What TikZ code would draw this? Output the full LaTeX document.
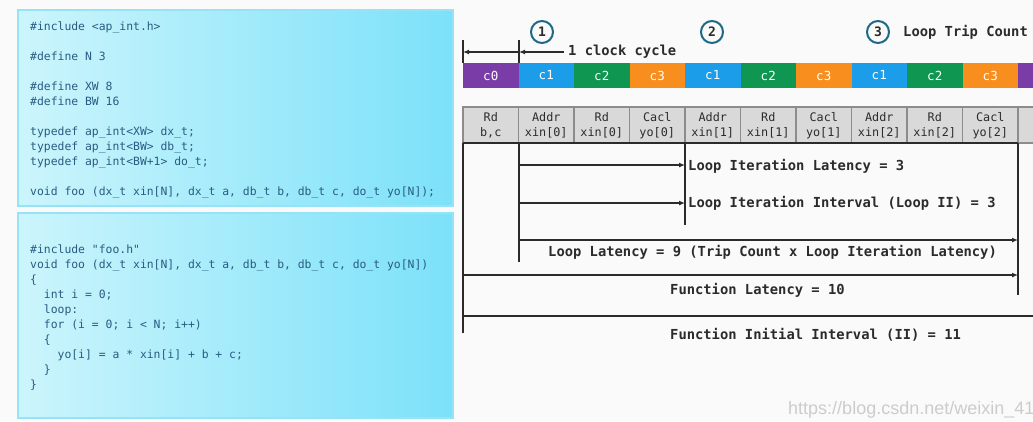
\documentclass[tikz,border=0pt]{standalone}
\usepackage{fontspec}
\setmonofont{DejaVu Sans Mono}
\newfontfamily\wmfont{Liberation Sans}
\usetikzlibrary{arrows.meta,calc}
\definecolor{bg}{HTML}{FAFAFA}
\definecolor{boxL}{RGB}{204,245,252}
\definecolor{boxR}{RGB}{124,225,249}
\definecolor{boxB}{RGB}{150,226,246}
\definecolor{codecol}{RGB}{40,92,130}
\definecolor{cpurple}{HTML}{7A3DA8}
\definecolor{cblue}{HTML}{1C9DEA}
\definecolor{cgreen}{HTML}{0F9650}
\definecolor{corange}{HTML}{F88E1E}
\definecolor{cellfill}{HTML}{D9D9D9}
\definecolor{cellline}{HTML}{8C8C8C}
\definecolor{ink}{HTML}{2B2B2B}
\definecolor{ring}{HTML}{1E6A86}
\tikzset{
  codebox/.style={left color=boxL, right color=boxR, draw=boxB, line width=1.5pt},
  codefont/.style={font=\ttfamily\fontsize{11.4}{15}\selectfont, text=codecol, inner sep=0pt},
  lbl/.style={font=\ttfamily\bfseries\fontsize{13.8}{16}\selectfont, text=ink, inner sep=0pt},
  clk/.style={font=\ttfamily\fontsize{12.5}{15}\selectfont, text=white, inner sep=0pt},
  cell/.style={font=\ttfamily\fontsize{11.8}{15}\selectfont, text=ink, align=center, inner sep=0pt},
  frame/.style={draw=ink, line width=1.6pt},
  arr/.style={frame, -{Latex[length=6pt,width=5pt]}},
  num/.style={circle, draw=ring, line width=2pt, minimum size=22pt, inner sep=0pt,
    font=\ttfamily\bfseries\fontsize{13}{15}\selectfont, text=ink}
}
\begin{document}
\begin{tikzpicture}[x=1pt,y=-1pt]
\useasboundingbox (0,0) rectangle (1033,421);
\clip (0,0) rectangle (1033,421);
\fill[bg] (0,0) rectangle (1033,421);

% code boxes
\draw[codebox] (18,10) rectangle (453,206);
\draw[codebox] (18,213) rectangle (453,418);

\foreach \yy/\txt [count=\k] in {
  26/{\#include <ap\_int.h>},
  56/{\#define N 3},
  86/{\#define XW 8},
  101/{\#define BW 16},
  131/{typedef ap\_int<XW> dx\_t;},
  146/{typedef ap\_int<BW> db\_t;},
  161/{typedef ap\_int<BW+1> do\_t;},
  191/{void foo (dx\_t xin[N], dx\_t a, db\_t b, db\_t c, do\_t yo[N]);}}
  \node[codefont, anchor=base west] (ca\k) at (30,\yy+4) {\txt};

\foreach \yy/\txt [count=\k] in {
  249/{\#include "foo.h"},
  264/{void foo (dx\_t xin[N], dx\_t a, db\_t b, db\_t c, do\_t yo[N])},
  279/{\{},
  294/{\phantom{xx}int i = 0;},
  309/{\phantom{xx}loop:},
  324/{\phantom{xx}for (i = 0; i < N; i++)},
  339/{\phantom{xx}\{},
  354/{\phantom{xxxx}yo[i] = a * xin[i] + b + c;},
  369/{\phantom{xx}\}},
  384/{\}}}
  \node[codefont, anchor=base west] (cb\k) at (30,\yy+4) {\txt};

% clock bar
\foreach \k/\c/\t in {0/cpurple/c0,1/cblue/c1,2/cgreen/c2,3/corange/c3,4/cblue/c1,5/cgreen/c2,6/corange/c3,7/cblue/c1,8/cgreen/c2,9/corange/c3}{
  \fill[\c] (463+55.5*\k,63) rectangle (463+55.5*\k+55.5,88);
  \node[clk] (clk\k) at (463+55.5*\k+27.75,75.5) {\t};
}
\fill[cpurple] (1018,63) rectangle (1033,88);

% table
\foreach \k/\a/\b in {0/Rd/{b,c},1/Addr/{xin[0]},2/Rd/{xin[0]},3/Cacl/{yo[0]},4/Addr/{xin[1]},5/Rd/{xin[1]},6/Cacl/{yo[1]},7/Addr/{xin[2]},8/Rd/{xin[2]},9/Cacl/{yo[2]}}{
  \draw[fill=cellfill, draw=cellline, line width=1.3pt] (463+55.5*\k,107) rectangle (463+55.5*\k+55.5,143);
  \node[cell] (tb\k) at (463+55.5*\k+27.75,125.5) {\a\\\b};
}
\draw[fill=cellfill, draw=cellline, line width=1.3pt] (1018,107) rectangle (1040,143);

% circles and header
\node[num] (n1) at (542,32) {1};
\node[num] (n2) at (712,32) {2};
\node[num] (n3) at (878,32) {3};
\node[lbl, anchor=west] (ltc) at (903,32) {Loop Trip Count};

% clock cycle dimension
\coordinate (d0t) at (463,40); \coordinate (d0b) at (463,63);
\coordinate (d1t) at (519,40); \coordinate (d1b) at (519,63);
\coordinate (d0m) at (463,52); \coordinate (d1m) at (519,52);
\coordinate (d2m) at (564,52);
\draw[frame, line width=1.4pt] (d0t) -- (d0b);
\draw[frame, line width=1.4pt] (d1t) -- (d1b);
\draw[arr, line width=1.4pt] (d1m) -- (d0m);
\draw[arr, line width=1.4pt] (d2m) -- (d1m);
\node[lbl, anchor=west] (ccl) at (568,52) {1 clock cycle};

% timing frame
\coordinate (v0t) at (463,143); \coordinate (v0b) at (463,333);
\coordinate (v1t) at (519,143); \coordinate (v1b) at (519,262);
\coordinate (v2t) at (685,143); \coordinate (v2b) at (685,225);
\coordinate (v3t) at (1018,143); \coordinate (v3b) at (1018,295);
\draw[frame] (v0t) -- (v0b);
\draw[frame] (v1t) -- (v1b);
\draw[frame] (v2t) -- (v2b);
\draw[frame] (v3t) -- (v3b);
\draw[frame] (v0t) -- (v3t);

\coordinate (a1s) at (519,165); \coordinate (a1e) at (685,165);
\coordinate (a2s) at (519,203); \coordinate (a2e) at (685,203);
\coordinate (a3s) at (519,240); \coordinate (a3e) at (1018,240);
\coordinate (a4s) at (463,275); \coordinate (a4e) at (1018,275);
\coordinate (h5s) at (463,316); \coordinate (h5e) at (1033,316);
\draw[arr] (a1s) -- (a1e);
\draw[arr] (a2s) -- (a2e);
\draw[arr] (a3s) -- (a3e);
\draw[arr] (a4s) -- (a4e);
\draw[frame] (h5s) -- (h5e);

\node[lbl, anchor=west] (t1) at (688,166) {Loop Iteration Latency = 3};
\node[lbl, anchor=west] (t2) at (688,203) {Loop Iteration Interval (Loop II) = 3};
\node[lbl, anchor=west] (t3) at (548,252) {Loop Latency = 9 (Trip Count x Loop Iteration Latency)};
\node[lbl, anchor=west] (t4) at (670,290) {Function Latency = 10};
\node[lbl, anchor=west] (t5) at (670,335) {Function Initial Interval (II) = 11};

% watermark
\node[font=\wmfont\fontsize{18}{20}\selectfont, text=black!20, anchor=west, inner sep=0pt] (wm) at (788,410) {https://blog.csdn.net/weixin\_41};
\end{tikzpicture}
\end{document}
